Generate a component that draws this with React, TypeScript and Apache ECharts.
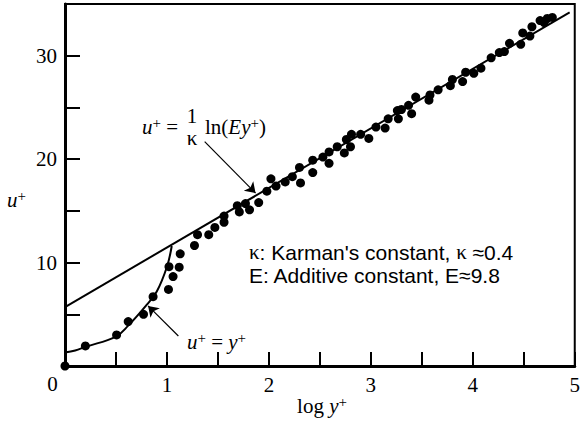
import React, { useEffect, useRef } from 'react';
import * as echarts from 'echarts';

const SERIF = "'Liberation Serif', 'Times New Roman', serif";
const SANS = "'Liberation Sans', Arial, sans-serif";

// tick labels
const xLabelValues = [1, 2, 3, 4, 5];
const yLabelValues = [10, 20, 30];

// measured data points (log y+, u+)
const measuredX = [
  0, 0.2, 0.506, 0.62, 0.77, 0.864, 1.015, 1.06, 1.02, 1.12, 1.13, 1.27, 1.3, 1.41, 1.47, 1.56, 1.56,
  1.69, 1.71, 1.77, 1.81, 1.9, 1.98, 2.02, 2.07, 2.16, 2.23, 2.31, 2.3, 2.43, 2.43, 2.53, 2.59, 2.59,
  2.67, 2.74, 2.76, 2.8, 2.81, 2.9, 2.98, 3.05, 3.14, 3.17, 3.26, 3.27, 3.3, 3.37, 3.4, 3.44, 3.57,
  3.58, 3.66, 3.78, 3.8, 3.9, 3.93, 4.01, 4.08, 4.18, 4.26, 4.31, 4.36, 4.47, 4.49, 4.56, 4.58, 4.66,
  4.7, 4.73, 4.78,
];
const measuredU = [
  0, 1.94, 3.0, 4.3, 5.0, 6.7, 7.4, 8.65, 9.6, 9.55, 10.85, 11.65, 12.7, 12.7, 13.4, 13.9, 14.5,
  15.5, 14.9, 15.7, 15.1, 15.8, 16.9, 18.1, 17.4, 17.8, 18.3, 17.7, 19.2, 18.7, 19.9, 20.2, 19.6, 20.7,
  21.2, 20.6, 21.9, 21.2, 22.4, 22.4, 22.0, 23.1, 23.0, 23.9, 24.7, 23.9, 24.8, 25.2, 24.4, 26.0, 25.7,
  26.2, 26.7, 27.1, 27.7, 27.5, 28.4, 28.3, 28.8, 29.8, 30.3, 30.4, 31.2, 31.1, 32.2, 31.9, 32.8, 33.4,
  33.2, 33.6, 33.7,
];

// log-law line endpoints
const logLawX = [0, 4.95];
const logLawU = [5.7, 34.2];

// viscous sublayer curve u+ = y+
const linearX = [0, 0.1, 0.2, 0.5, 0.62, 0.8, 0.9, 1.0, 1.047];
const linearU = [1.3, 1.5, 1.85, 2.85, 3.9, 5.9, 7.2, 9.6, 11.6];

// annotation arrows (start, tip) in data units
const arrowLogLaw = [[1.37, 21.7], [1.869, 16.72]];
const arrowLinear = [[1.112, 2.9], [0.815, 5.81]];

const zip = (xs: number[], ys: number[]) => xs.map((x, i) => [x, ys[i]]);

const richSerif: any = {
  n: { fontFamily: SERIF, fontSize: 21, lineHeight: 24, fill: '#000', color: '#000' },
  i: { fontFamily: SERIF, fontSize: 21, fontStyle: 'italic', lineHeight: 24, fill: '#000', color: '#000' },
  s: { fontFamily: SERIF, fontSize: 15, lineHeight: 15, verticalAlign: 'top', fill: '#000', color: '#000' },
  f: { fontFamily: SERIF, fontSize: 21, lineHeight: 20, fill: '#000', color: '#000' },
};
const richSans: any = {
  k: { fontFamily: SERIF, fontSize: 21, lineHeight: 23, fill: '#000' },
  t: { fontFamily: SANS, fontSize: 21, lineHeight: 23, fill: '#000' },
};

export default function App() {
  const ref = useRef<HTMLDivElement>(null);
  useEffect(() => {
    document.body.style.margin = '0';
    const chart = echarts.init(ref.current!, null, { renderer: 'svg' });
    chart.setOption({
      animation: false,
      backgroundColor: '#fff',
      grid: { left: 65, right: 1, top: 4, bottom: 58, show: true, borderColor: '#000', borderWidth: 2 },
      xAxis: {
        type: 'value', min: 0, max: 5, interval: 0.5,
        axisLine: { lineStyle: { color: '#000', width: 3 } },
        axisTick: { inside: true, length: 14, lineStyle: { color: '#000', width: 2 } },
        axisLabel: {
          formatter: (v: number) => (xLabelValues.includes(v) ? String(v) : ''),
          fontFamily: SERIF, fontSize: 21, color: '#000', margin: 8,
        },
        splitLine: { show: false },
      },
      yAxis: {
        type: 'value', min: 0, max: 35, interval: 5,
        axisLine: { lineStyle: { color: '#000', width: 3 } },
        axisTick: { inside: true, length: 15, lineStyle: { color: '#000', width: 2 } },
        axisLabel: {
          formatter: (v: number) => (yLabelValues.includes(v) ? String(v) : ''),
          fontFamily: SERIF, fontSize: 21, color: '#000', margin: 8,
        },
        splitLine: { show: false },
      },
      series: [
        {
          type: 'line', data: zip(logLawX, logLawU), symbol: 'none',
          lineStyle: { color: '#000', width: 2 },
        },
        {
          type: 'line', data: zip(linearX, linearU), symbol: 'none', smooth: 0.4,
          lineStyle: { color: '#000', width: 2 },
        },
        {
          type: 'scatter', data: zip(measuredX, measuredU), symbolSize: 9,
          itemStyle: { color: '#000', opacity: 1 },
        },
        {
          type: 'lines', coordinateSystem: 'cartesian2d',
          symbol: ['none', 'arrow'], symbolSize: 10,
          lineStyle: { color: '#000', width: 1.2, opacity: 1, curveness: 0 },
          data: [{ coords: arrowLogLaw }, { coords: arrowLinear }],
        },
      ],
      graphic: [
        { type: 'text', x: 52.5, y: 384, style: { text: '0', font: `21px ${SERIF}`, fill: '#000', align: 'center', verticalAlign: 'middle' } },
        { type: 'text', x: 7, y: 200, style: { text: '{i|u}{s|+}', rich: richSerif, align: 'left', verticalAlign: 'middle' } },
        { type: 'text', x: 322, y: 406, style: { text: '{n|log }{i|y}{s|+}', rich: richSerif, align: 'center', verticalAlign: 'middle' } },
        { type: 'text', x: 142, y: 127, style: { text: '{i|u}{s|+}{n| =}', rich: richSerif, align: 'left', verticalAlign: 'middle' } },
        { type: 'text', x: 192, y: 116, style: { text: '{f|1}', rich: richSerif, align: 'center', verticalAlign: 'middle' } },
        { type: 'text', x: 192, y: 138, style: { text: '{f|κ}', rich: richSerif, align: 'center', verticalAlign: 'middle' } },
        { type: 'text', x: 205, y: 127, style: { text: '{n|ln(}{i|Ey}{s|+}{n|)}', rich: richSerif, align: 'left', verticalAlign: 'middle' } },
        { type: 'text', x: 187, y: 342, style: { text: '{i|u}{s|+}{n| = }{i|y}{s|+}', rich: richSerif, align: 'left', verticalAlign: 'middle' } },
        { type: 'text', x: 249, y: 252, style: { text: "{k|κ}{t|: Karman's constant, }{k|κ}{t| ≈0.4}", rich: richSans, align: 'left', verticalAlign: 'middle' } },
        { type: 'text', x: 249, y: 275, style: { text: '{t|E: Additive constant, E≈9.8}', rich: richSans, align: 'left', verticalAlign: 'middle' } },
      ],
    });
    return () => chart.dispose();
  }, []);
  return <div ref={ref} style={{ width: 583, height: 424 }} />;
}
